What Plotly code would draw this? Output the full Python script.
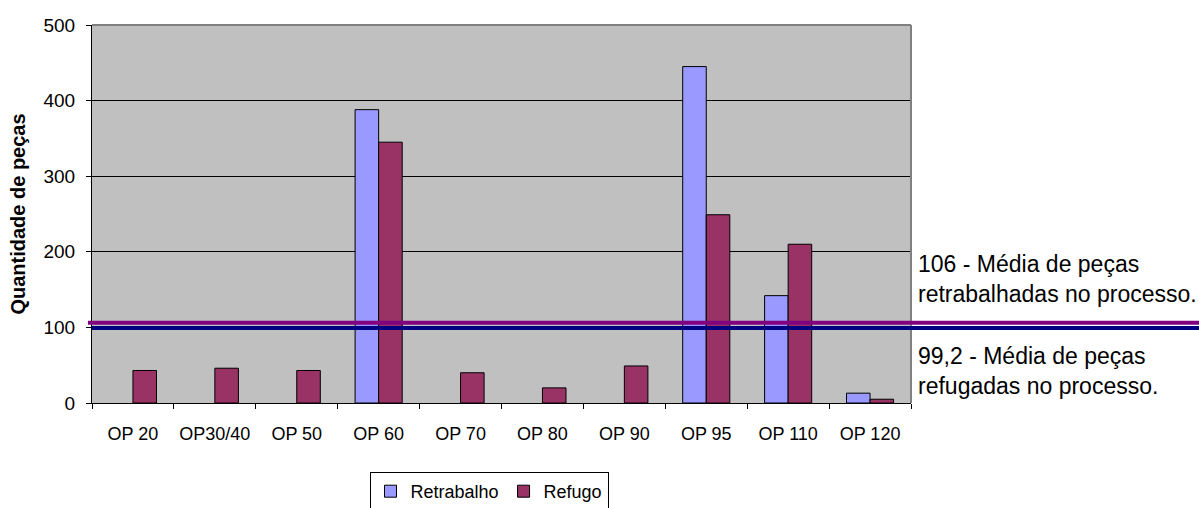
import plotly.graph_objects as go

# Operações do processo e quantidades de peças (células vazias = None)
operacoes = ["OP 20", "OP30/40", "OP 50", "OP 60", "OP 70", "OP 80",
             "OP 90", "OP 95", "OP 110", "OP 120"]
retrabalho = [None, None, None, 388, None, None, None, 445, 142, 13]
refugo = [43, 46, 43, 345, 40, 20, 49, 249, 210, 5]

# Médias do processo
media_retrabalho = 106
media_refugo = 99.2
texto_retrabalho = "106 - Média de peças<br>retrabalhadas no processo."
texto_refugo = "99,2 - Média de peças<br>refugadas no processo."

y_ticks = [0, 100, 200, 300, 400, 500]

FONT = "Liberation Sans, Arial"

fig = go.Figure()
fig.add_trace(go.Bar(
    x=operacoes, y=retrabalho, name="Retrabalho",
    marker=dict(color="#9999FF", line=dict(color="#000000", width=1)),
))
fig.add_trace(go.Bar(
    x=operacoes, y=refugo, name="Refugo",
    marker=dict(color="#993366", line=dict(color="#000000", width=1)),
))

# Borda cinza superior e direita da área do gráfico
fig.add_shape(type="line", xref="paper", yref="paper", x0=0, x1=1, y0=1, y1=1,
              line=dict(color="#808080", width=2), layer="above")
fig.add_shape(type="line", xref="paper", yref="paper", x0=1, x1=1, y0=0, y1=1,
              line=dict(color="#808080", width=2), layer="above")

# Linhas das médias, prolongadas até a borda direita
x_end = (1199 - 92) / 819
fig.add_shape(type="line", xref="paper", yref="y", x0=-0.005, x1=x_end,
              y0=media_retrabalho, y1=media_retrabalho,
              line=dict(color="#800080", width=4), layer="above")
fig.add_shape(type="line", xref="paper", yref="y", x0=0, x1=x_end,
              y0=media_refugo, y1=media_refugo,
              line=dict(color="#000080", width=4), layer="above")

fig.add_annotation(xref="paper", yref="y", x=1.006, y=media_retrabalho,
                   yshift=14, xanchor="left", yanchor="bottom",
                   text=texto_retrabalho, showarrow=False, align="left",
                   font=dict(family=FONT, size=23, color="#000000"))
fig.add_annotation(xref="paper", yref="y", x=1.006, y=media_refugo,
                   yshift=-13, xanchor="left", yanchor="top",
                   text=texto_refugo, showarrow=False, align="left",
                   font=dict(family=FONT, size=23, color="#000000"))

fig.update_layout(
    width=1199, height=508,
    margin=dict(l=92, r=288, t=25, b=105, autoexpand=False),
    paper_bgcolor="#FFFFFF",
    plot_bgcolor="#C0C0C0",
    barmode="group",
    bargap=0.425,
    bargroupgap=0,
    font=dict(family=FONT, size=18, color="#000000"),
    showlegend=True,
    legend=dict(
        orientation="h", x=(489 - 92) / 819, xanchor="center",
        yref="container", y=(508 - 472) / 508, yanchor="top",
        bordercolor="#000000", borderwidth=1, bgcolor="#FFFFFF",
        font=dict(size=18), itemwidth=30, tracegroupgap=0,
    ),
)
fig.update_xaxes(
    showline=True, linecolor="#000000", linewidth=1, mirror=False,
    ticks="outside", tickson="boundaries", ticklen=5, tickcolor="#000000",
    showgrid=False, tickfont=dict(size=18), ticklabelstandoff=14,
)
fig.update_yaxes(
    range=[0, 500], tickvals=y_ticks,
    showline=True, linecolor="#000000", linewidth=1,
    ticks="outside", ticklen=5, tickcolor="#000000",
    showgrid=True, gridcolor="#000000", gridwidth=1,
    zeroline=False, tickfont=dict(size=19), ticklabelstandoff=7,
    title=dict(text="<b>Quantidade de peças</b>", font=dict(size=20), standoff=12),
)

fig.write_html("out.html")
